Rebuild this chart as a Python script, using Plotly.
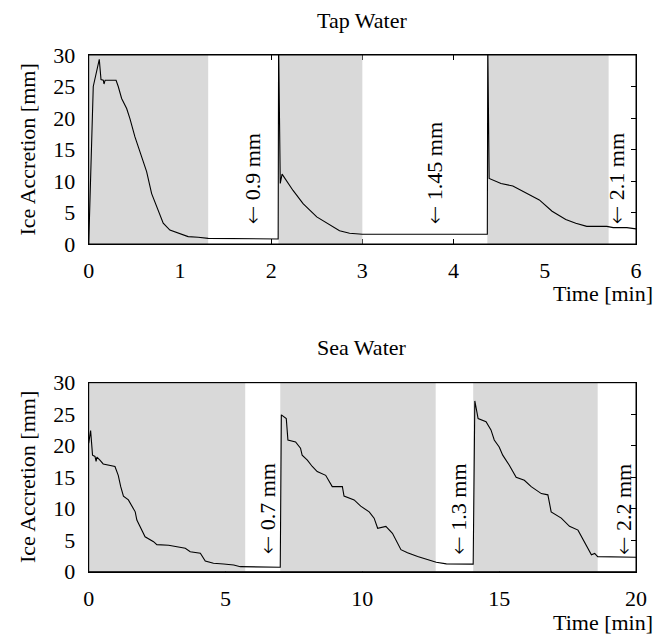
import plotly.graph_objects as go

# ---------------- data ----------------
tap_t = [0, 0.05, 0.116, 0.135, 0.16, 0.168, 0.18, 0.30, 0.324, 0.361, 0.416, 0.452, 0.507, 0.562,
         0.635, 0.69, 0.745, 0.817, 0.89, 1.0, 1.09, 1.2, 1.31, 2.077, 2.082, 2.10, 2.12, 2.24, 2.35,
         2.50, 2.64, 2.75, 2.86, 3.0, 4.37, 4.375, 4.39, 4.52, 4.65, 4.79, 4.94, 5.08, 5.23, 5.34,
         5.46, 5.68, 5.75, 5.9, 6.0]
tap_v = [0, 25, 29.3, 26.1, 26, 25.4, 26, 26, 25.0, 23.1, 21.5, 19.9, 17.0, 14.6,
         11.5, 8.0, 5.9, 3.3, 2.2, 1.7, 1.17, 1.06, 0.9, 0.8, 32, 9.6, 11.1, 8.5, 6.4,
         4.3, 3.0, 2.1, 1.7, 1.55, 1.55, 32, 10.4, 9.6, 9.2, 8.1, 7.0, 5.2, 3.9, 3.3,
         2.8, 2.8, 2.6, 2.6, 2.4]

sea_t = [0, 0.07, 0.14, 0.23, 0.27, 0.3, 0.41, 0.53, 0.96, 1.08, 1.17, 1.27, 1.45, 1.7, 1.76,
         1.94, 2.06, 2.37, 2.49, 2.92, 3.22, 3.53, 3.71, 4.08, 4.26, 4.56, 4.93, 5.3, 5.54, 7.0,
         7.04, 7.22, 7.28, 7.56, 7.74, 7.8, 7.99, 8.17, 8.35, 8.66, 8.9, 9.27, 9.33, 9.7, 9.94,
         10.25, 10.43, 10.56, 10.86, 11.1, 11.41, 11.65, 12.02, 12.38, 12.7, 13.07, 14.05, 14.11,
         14.23, 14.52, 14.7, 14.82, 15.0, 15.13, 15.37, 15.62, 15.92, 16.17, 16.54, 16.78, 16.9,
         17.27, 17.57, 17.88, 18.12, 18.37, 18.49, 18.6, 20]
sea_v = [20.4, 22.4, 18.5, 18.3, 17.5, 18.2, 17.7, 17.1, 16.7, 15.3, 13.5, 12.0, 11.4, 9.5, 8.2,
         6.6, 5.55, 4.76, 4.3, 4.2, 3.97, 3.71, 3.18, 2.92, 1.7, 1.33, 1.22, 1.06, 0.8, 0.7,
         24.9, 24.3, 20.9, 20.6, 19.6, 18.5, 17.7, 16.7, 15.9, 15.3, 13.5, 13.5, 12.0, 11.4, 10.4,
         9.5, 8.5, 6.9, 7.2, 6.1, 3.5, 3.0, 2.4, 1.86, 1.5, 1.25, 1.2, 27.1,
         24.3, 23.8, 22.5, 20.9, 19.8, 18.5, 16.9, 15.0, 14.5, 13.5, 12.4, 12.2, 9.5,
         8.5, 7.2, 6.6, 4.8, 2.7, 2.9, 2.4, 2.3]

tap_shade_start = [0, 2.08, 4.37]
tap_shade_end = [1.31, 3.0, 5.70]
sea_shade_start = [0, 7.0, 14.05]
sea_shade_end = [5.72, 12.68, 18.6]

tap_labels = ["0.9 mm", "1.45 mm", "2.1 mm"]
tap_label_x = [1.79, 3.79, 5.78]
sea_labels = ["0.7 mm", "1.3 mm", "2.2 mm"]
sea_label_x = [6.52, 13.48, 19.52]
ARROW = "\u2190"

titles = ["Tap Water", "Sea Water"]
x_ticks_tap = [0, 1, 2, 3, 4, 5, 6]
x_ticks_sea = [0, 5, 10, 15, 20]
y_ticks = [0, 5, 10, 15, 20, 25, 30]
Y_MAX = 30

# ---------------- figure ----------------
FONT = "Liberation Serif"
FS = 22
GRAY = "rgb(217,217,217)"
W, H = 665, 637


def shade_xy(starts, ends):
    xs, ys = [], []
    for s, e in zip(starts, ends):
        xs += [s, e, e, s, s, None]
        ys += [0, 0, Y_MAX, Y_MAX, 0, None]
    return xs, ys


fig = go.Figure()

for (starts, ends, t, v, xa, ya) in [
    (tap_shade_start, tap_shade_end, tap_t, tap_v, "x", "y"),
    (sea_shade_start, sea_shade_end, sea_t, sea_v, "x2", "y2"),
]:
    sx, sy = shade_xy(starts, ends)
    fig.add_trace(go.Scatter(x=sx, y=sy, fill="toself", fillcolor=GRAY, mode="lines",
                             line=dict(width=0, color=GRAY), hoverinfo="skip",
                             showlegend=False, xaxis=xa, yaxis=ya))
    fig.add_trace(go.Scatter(x=t, y=v, mode="lines", line=dict(color="black", width=1.1),
                             showlegend=False, xaxis=xa, yaxis=ya))

xdom = [88.7 / W, 636 / W]
ydom_top = [1 - 244 / H, 1 - 55 / H]
ydom_bot = [1 - 571.7 / H, 1 - 382.7 / H]

axis_common = dict(showgrid=False, zeroline=False, ticks="inside", ticklen=5, tickwidth=1,
                   tickcolor="black", showline=True, linecolor="black", linewidth=1,
                   mirror="ticks", layer="below traces", automargin=False,
                   tickfont=dict(family=FONT, size=FS, color="black"))

fig.update_layout(
    template="none",
    width=W, height=H, margin=dict(l=0, r=0, t=0, b=0, pad=0),
    paper_bgcolor="white", plot_bgcolor="white",
    font=dict(family=FONT, size=FS, color="black"),
    xaxis=dict(domain=xdom, range=[0, 6], tickvals=x_ticks_tap, anchor="y",
               ticklabelstandoff=7, **axis_common),
    yaxis=dict(domain=ydom_top, range=[0, Y_MAX], tickvals=y_ticks, anchor="x",
               ticklabelstandoff=8, **axis_common),
    xaxis2=dict(domain=xdom, range=[0, 20], tickvals=x_ticks_sea, anchor="y2",
                ticklabelstandoff=7, **axis_common),
    yaxis2=dict(domain=ydom_bot, range=[0, Y_MAX], tickvals=y_ticks, anchor="x2",
                ticklabelstandoff=8, **axis_common),
)

# frames above the shading
for xr, yr in [("x", "y"), ("x2", "y2")]:
    fig.add_shape(type="rect", xref=f"{xr} domain", yref=f"{yr} domain", x0=0, x1=1, y0=0, y1=1,
                  line=dict(color="black", width=1), layer="above")


def arrow_text(lbl):
    return f'<span style="font-family:DejaVu Sans;font-weight:200">{ARROW}</span> {lbl}'


anns = []
for lbl, x in zip(tap_labels, tap_label_x):
    anns.append(dict(text=arrow_text(lbl), x=x, y=2.9, xref="x", yref="y", textangle=-90,
                     showarrow=False, xanchor="center", yanchor="bottom",
                     font=dict(family=FONT, size=FS)))
for lbl, x in zip(sea_labels, sea_label_x):
    anns.append(dict(text=arrow_text(lbl), x=x, y=2.4, xref="x2", yref="y2", textangle=-90,
                     showarrow=False, xanchor="center", yanchor="bottom",
                     font=dict(family=FONT, size=FS)))

# titles
anns.append(dict(text=titles[0], x=362 / W, y=1 - 21 / H, xref="paper", yref="paper",
                 showarrow=False, xanchor="center", yanchor="middle"))
anns.append(dict(text=titles[1], x=362 / W, y=1 - 347 / H, xref="paper", yref="paper",
                 showarrow=False, xanchor="center", yanchor="middle"))
# x axis titles
for yc in [293, 622]:
    anns.append(dict(text="Time [min]", x=655 / W, y=1 - yc / H, xref="paper", yref="paper",
                     showarrow=False, xanchor="right", yanchor="middle"))
# y axis titles
for yc in [149.5, 477]:
    anns.append(dict(text="Ice Accretion [mm]", x=27 / W, y=1 - yc / H, xref="paper", yref="paper",
                     textangle=-90, showarrow=False, xanchor="center", yanchor="middle"))

fig.update_layout(annotations=anns)
fig.write_html("out.html", config={"displayModeBar": False},
               post_script="document.body.style.margin='0';document.body.style.overflow='hidden';")
